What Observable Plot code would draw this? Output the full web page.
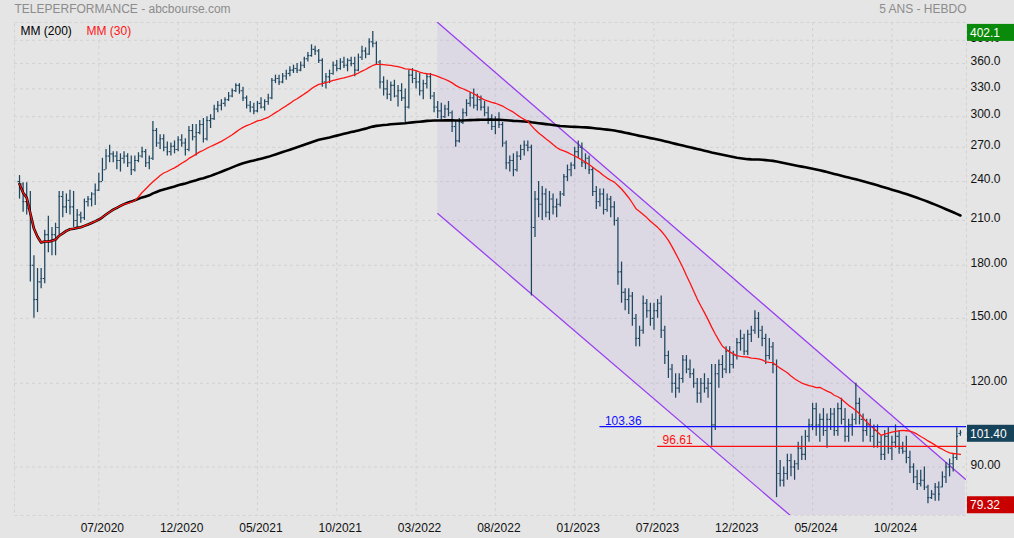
<!DOCTYPE html>
<html><head><meta charset="utf-8">
<script src="https://cdn.jsdelivr.net/npm/d3@7"></script>
<script src="https://cdn.jsdelivr.net/npm/@observablehq/plot@0.6"></script>
<style>
html,body{margin:0;padding:0;background:#e5e5e5;}
#chart{width:1014px;height:538px;overflow:hidden;}
</style></head><body><div id="chart"></div>
<script>
// Weekly OHLC, 262 weeks (index 0 = week of 17/02/2020)
const opens = [
240,238,224,219,180,160,170,172,200,195,
200,205,228,220,225,220,210,214,212,224,
226,230,233,240,250,262,264,262,258,260,
262,256,250,258,262,266,256,260,286,274,
278,270,266,271,268,277,274,268,286,280,
284,292,278,296,298,308,312,314,318,322,
328,334,328,320,312,310,306,314,310,316,
320,340,342,338,345,348,352,354,352,358,
366,370,378,376,364,338,344,348,358,354,
362,358,364,360,352,368,376,372,388,386,
362,338,330,324,334,322,328,320,310,346,
342,338,328,336,344,322,310,306,300,308,
304,290,276,294,304,314,320,312,318,310,
304,298,290,296,292,274,256,258,250,262,
268,272,270,205,226,222,230,216,226,220,
222,230,244,250,254,266,270,256,260,250,
232,224,230,218,226,220,210,176,164,160,
162,150,140,144,158,154,150,154,158,144,
132,126,120,118,122,130,126,124,120,116,
120,118,120,104,124,128,126,134,128,132,
138,140,134,142,144,150,144,140,132,136,
128,88,86,88,92,90,91,96,94,100,
104,110,104,106,102,106,108,102,110,106,
100,104,106,112,106,102,104,100,102,98,
94,100,96,98,100,96,95,93,90,87,
85,86,84,81,82,84,84,87,90,91,
93,101];
const highs = [
245,239,239,232,186,178,178,203,213,205,
208,232,232,230,233,232,218,216,226,228,
231,238,247,260,268,272,266,266,264,266,
264,262,262,265,270,268,262,295,288,282,
282,275,274,276,280,282,278,290,292,292,
296,298,300,302,312,316,318,320,326,330,
336,336,332,322,316,314,316,320,318,324,
342,346,346,348,352,356,358,360,362,368,
374,384,382,378,366,348,352,362,364,366,
368,366,368,368,372,382,380,392,402.1,388,
364,344,340,338,340,334,336,330,352,354,
350,348,340,348,348,326,316,314,312,316,
306,296,298,308,318,326,330,324,322,316,
310,302,300,304,294,276,262,264,266,272,
276,276,272,232,240,236,234,232,230,226,
232,246,254,256,270,276,274,264,262,252,
236,234,234,230,228,224,212,182,166,166,
164,152,146,162,160,158,158,160,162,146,
134,128,124,124,132,132,130,126,122,122,
124,122,128,128,130,132,136,136,134,140,
144,142,144,146,154,153,146,142,140,138,
130,92,90,94,94,92,98,100,102,106,
112,112,108,110,108,110,110,112,114,110,
106,108,120,114,108,106,106,104,104,100,
102,103,100,104,102,98,100,95,91,89,
89,90,84.5,83,85,85.5,88.5,91.4,92.5,94,
103,102];
const lows = [
226,216,214,170,150,153,166,169,188,186,
186,200,212,215,214,205,204,208,210,220,
220,221,232,240,250,256,256,250,248,255,
252,245,248,256,260,252,250,258,270,268,
266,262,262,264,266,270,262,266,276,262,
282,274,276,288,296,304,306,310,316,320,
326,324,316,308,304,302,304,308,306,312,
318,336,334,336,340,344,348,348,350,354,
362,368,370,360,332,330,336,346,350,352,
354,350,356,344,350,364,366,370,380,358,
330,322,318,316,320,310,316,294,308,336,
330,322,318,330,318,304,298,296,298,300,
284,270,274,292,300,310,308,306,306,300,
292,286,282,288,270,250,248,244,248,258,
262,266,162,198,212,210,212,210,214,212,
220,228,240,244,250,260,252,250,246,228,
218,220,214,216,212,206,168,158,154,152,
146,136,136,142,150,146,144,150,140,128,
122,116,114,116,120,124,122,118,112,112,
116,114,96.61,102,118,122,124,124,126,130,
134,132,132,138,142,140,136,128,130,124,
81,84,84,86,87,86,89,92,92,98,
102,100,98,100,96,102,100,100,104,98,
98,100,104,104,98,100,98,96,96,92,
92,94,92,96,94,94,91,88,85,83,
84,83,79.32,80.5,80,80,83.8,85,87,88.5,
92,100];
const closes = [
238,224,219,180,160,170,172,200,195,200,
205,228,220,225,220,210,214,212,224,226,
230,233,240,250,262,264,262,258,260,262,
256,250,258,262,266,256,260,286,274,278,
270,266,271,268,277,274,268,286,280,284,
292,278,296,298,308,312,314,318,322,328,
334,328,320,312,310,306,314,310,316,320,
340,342,338,345,348,352,354,352,358,366,
370,378,376,364,338,344,348,358,354,362,
358,364,360,352,368,376,372,388,386,362,
338,330,324,334,322,328,320,310,346,342,
338,328,336,344,322,310,306,300,308,304,
290,276,294,304,314,320,312,318,310,304,
298,290,296,292,274,256,258,250,262,268,
272,270,205,226,222,230,216,226,220,222,
230,244,250,254,266,270,256,260,250,232,
224,230,218,226,220,210,176,164,160,162,
150,140,144,158,154,150,154,158,144,132,
126,120,118,122,130,126,124,120,116,120,
118,120,104,124,128,126,134,128,132,138,
140,134,142,144,150,144,140,132,136,128,
88,86,88,92,90,91,96,94,100,104,
110,104,106,102,106,108,102,110,106,100,
104,106,112,106,102,104,100,102,98,94,
100,96,98,100,96,95,93,90,87,85,
86,84,81,82,84,82,87,90,91,93,
100,101.4];

const tickIdx = [22,44,66,88,110,132,154,176,198,220,242];
const tickLabels = ["07/2020","12/2020","05/2021","10/2021","03/2022","08/2022","01/2023","07/2023","12/2023","05/2024","10/2024"];
const yTicks = [390,360,330,300,270,240,210,180,150,120,90];

// downward channel (week index, price)
const channelX = [116, 262.4];
const channelUpper = [414.6, 86.3];
const channelLower = [215.0, 45.5];

const levelValues = [103.36, 96.61];
const levelStart = [161, 177];
const levelColors = ["#1010ff", "#ff1010"];

const lastClose = 101.40, maxHigh = 402.1, minLow = 79.32;

const bars = closes.map((c, i) => ({i, open: opens[i], high: highs[i], low: lows[i], close: c}));
const channel = channelX.map((x, k) => ({x, lo: channelLower[k], up: channelUpper[k]}));
const levels = levelValues.map((v, k) => ({value: v, from: levelStart[k], to: 262.7, color: levelColors[k]}));
const boxes = [
  {value: maxHigh, label: maxHigh.toFixed(1), color: "#0a8a0a"},
  {value: lastClose, label: lastClose.toFixed(2), color: "#17435a"},
  {value: minLow, label: minLow.toFixed(2), color: "#c80000"}
];

const font = "'Liberation Sans', Arial, Helvetica, sans-serif";
const barColor = "#1d4660";

function valueBoxes(index, scales, values, dims) {
  const g = d3.create("svg:g").attr("font-family", font).attr("font-size", 12).attr("text-anchor", "start");
  const x0 = dims.width - dims.marginRight + 1;
  for (const b of boxes) {
    const yy = scales.y(b.value) + 1.5;
    g.append("rect").attr("x", x0).attr("y", yy - 8.5).attr("width", dims.marginRight).attr("height", 17).attr("fill", b.color);
    g.append("text").attr("x", x0 + 3).attr("y", yy).attr("dy", "0.36em").attr("text-anchor", "start").attr("fill", "#fff").text(b.label);
  }
  return g.node();
}

const chart = Plot.plot({
  width: 1014, height: 538,
  marginLeft: 14, marginRight: 48, marginTop: 22, marginBottom: 23,
  style: {background: "#e5e5e5", fontFamily: font, fontSize: "12px", color: "#111", overflow: "visible"},
  x: {type: "linear", domain: [-1.39, 262.69], axis: null},
  y: {type: "log", domain: [76.18, 414.6], axis: null},
  marks: [
    Plot.gridX(tickIdx, {stroke: "#d2d2d2", strokeOpacity: 1, strokeDasharray: "3,3"}),
    Plot.gridY(yTicks, {stroke: "#d2d2d2", strokeOpacity: 1, strokeDasharray: "3,3"}),
    Plot.frame({stroke: "#d2d2d2", strokeDasharray: "3,3"}),
    Plot.areaY(channel, {x: "x", y1: "lo", y2: "up", fill: "#a080e0", fillOpacity: 0.12, clip: true}),
    Plot.line(channel, {x: "x", y: "up", stroke: "#9a40f0", strokeWidth: 1.3, clip: true}),
    Plot.line(channel, {x: "x", y: "lo", stroke: "#9a40f0", strokeWidth: 1.3, clip: true}),
    Plot.ruleX(bars, {x: "i", y1: "low", y2: "high", stroke: barColor, strokeWidth: 1.25}),
    Plot.ruleY(bars, {y: "open", x1: d => d.i - 0.42, x2: "i", stroke: barColor, strokeWidth: 1.1}),
    Plot.ruleY(bars, {y: "close", x1: "i", x2: d => d.i + 0.42, stroke: barColor, strokeWidth: 1.1}),
    Plot.lineY(bars, Plot.windowY({k: 200, anchor: "end", reduce: "mean"}, {x: "i", y: "close", stroke: "#000", strokeWidth: 2.6})),
    Plot.lineY(bars, Plot.windowY({k: 30, anchor: "end", reduce: "mean"}, {x: "i", y: "close", stroke: "#ff1414", strokeWidth: 1.3})),
    Plot.ruleY(levels, {y: "value", x1: "from", x2: "to", stroke: "color", strokeWidth: 1.3}),
    Plot.text(levels, {x: "from", y: "value", text: d => d.value.toFixed(2), fill: "color", dx: 5, dy: -2, lineAnchor: "bottom", textAnchor: "start", fontSize: 12}),
    Plot.axisX({ticks: tickIdx, tickFormat: d => tickLabels[tickIdx.indexOf(d)], tickSize: 0, tickPadding: 8, dx: 3.5, fontSize: 12, fill: "#111"}),
    Plot.axisY({ticks: yTicks, anchor: "right", tickSize: 0, tickPadding: 4, dy: -2, textAnchor: "start", fontSize: 12, fill: "#111",
      tickFormat: d => d >= 200 ? d.toFixed(1) : d.toFixed(2)}),
    Plot.text(["TELEPERFORMANCE - abcbourse.com"], {text: d => d, frameAnchor: "top-left", dy: -13, lineAnchor: "middle", textAnchor: "start", fill: "#8c8c8c", fontSize: 12}),
    Plot.text(["5 ANS - HEBDO"], {text: d => d, frameAnchor: "top-right", dy: -13, lineAnchor: "middle", textAnchor: "end", fill: "#8c8c8c", fontSize: 12}),
    Plot.text(["MM (200)"], {text: d => d, frameAnchor: "top-left", dx: 6, dy: 8.5, lineAnchor: "middle", textAnchor: "start", fill: "#000", fontSize: 12}),
    Plot.text(["MM (30)"], {text: d => d, frameAnchor: "top-left", dx: 72, dy: 8.5, lineAnchor: "middle", textAnchor: "start", fill: "#ff1414", fontSize: 12}),
    valueBoxes
  ]
});
document.getElementById("chart").appendChild(chart);
</script></body></html>
